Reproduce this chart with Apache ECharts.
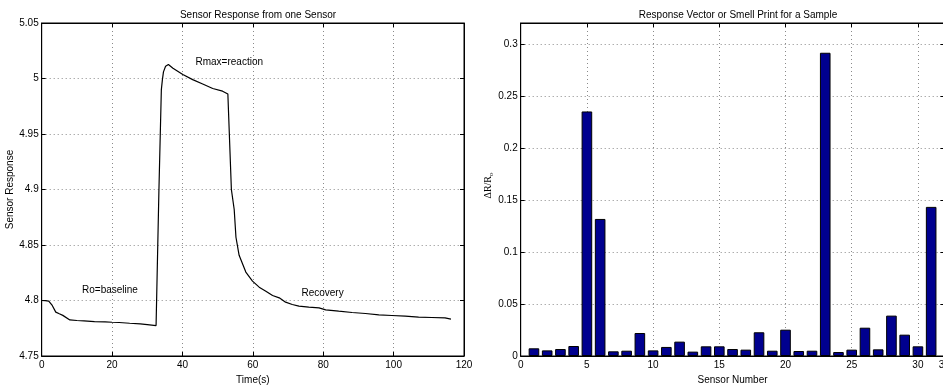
<!DOCTYPE html>
<html><head><meta charset="utf-8">
<script src="https://cdn.jsdelivr.net/npm/echarts@6/dist/echarts.min.js"></script>
<style>html,body{margin:0;padding:0;background:#fff}#c{width:943px;height:385px}</style>
</head><body><div id="c"></div>
<script>
// Left chart: sensor response over time
const timeS = [0, 1, 2, 2.5, 3, 4, 5, 6, 8, 10, 12, 15, 18, 20, 22, 25, 28, 30, 32.5, 32.7, 33.3, 34.0, 34.3, 34.6, 35.2, 36.0, 37.3, 40.1, 42.9, 45.75, 48.6, 51.4, 52.9, 53.1, 53.9, 54.7, 55.2, 56.1, 58.0, 59.9, 61.8, 63.7, 65.6, 67.5, 69.3, 71.2, 73.1, 75.9, 78.8, 80.7, 84.4, 88.2, 92.0, 95.8, 99.5, 103.3, 107.1, 110.8, 114.6, 116.3];
const response = [4.800, 4.7998, 4.7995, 4.8005, 4.7955, 4.7895, 4.7880, 4.7866, 4.7825, 4.7820, 4.7816, 4.7810, 4.7808, 4.7804, 4.7802, 4.7795, 4.7790, 4.7783, 4.7774, 4.7775, 4.898, 4.990, 4.999, 5.006, 5.011, 5.0126, 5.0093, 5.0036, 4.999, 4.995, 4.991, 4.9886, 4.986, 4.985, 4.900, 4.882, 4.857, 4.8407, 4.8256, 4.8175, 4.812, 4.8084, 4.8045, 4.8024, 4.7985, 4.7964, 4.7949, 4.7940, 4.7934, 4.7916, 4.7904, 4.7892, 4.7883, 4.7870, 4.7865, 4.7859, 4.7850, 4.7847, 4.7844, 4.7832];
const leftXTicks = [0, 20, 40, 60, 80, 100, 120];
const leftYTicks = [4.75, 4.8, 4.85, 4.9, 4.95, 5, 5.05];
const annotations = [
  {text: 'Rmax=reaction', t: 53.3, v: 5.0143},
  {text: 'Ro=baseline', t: 19.4, v: 4.8096},
  {text: 'Recovery', t: 79.8, v: 4.8065}
];
// Right chart: response vector
const sensorNumber = [1,2,3,4,5,6,7,8,9,10,11,12,13,14,15,16,17,18,19,20,21,22,23,24,25,26,27,28,29,30,31];
const deltaR = [0.0074, 0.0054, 0.0067, 0.0096, 0.235, 0.1317, 0.0045, 0.0051, 0.0221, 0.0054, 0.0087, 0.0138, 0.0042, 0.0093, 0.0093, 0.0067, 0.0061, 0.0228, 0.0051, 0.0253, 0.0048, 0.0051, 0.2914, 0.0038, 0.0061, 0.0272, 0.0064, 0.0388, 0.0205, 0.0093, 0.1433];
const rightYTicks = [0, 0.05, 0.1, 0.15, 0.2, 0.25, 0.3];

const FONT = 'Liberation Sans';
const tickStyle = {inside: true, length: 4, lineStyle: {color: '#000'}};
const gridLine = {show: true, lineStyle: {color: '#8a8a8a', type: [1, 3], width: 1}};
const lbl = {color: '#000', fontFamily: FONT, fontSize: 10};

function fmt(v){ return String(Math.round(v*1000)/1000); }

const chart = echarts.init(document.getElementById('c'), null, {renderer: 'canvas'});
chart.setOption({
  animation: false,
  backgroundColor: '#fff',
  title: [
    {text: 'Sensor Response from one Sensor', left: 253, top: 5, textAlign: 'center',
     textStyle: {fontFamily: FONT, fontSize: 10, fontWeight: 'normal', color: '#000'}},
    {text: 'Response Vector or Smell Print for a Sample', left: 733, top: 5, textAlign: 'center',
     textStyle: {fontFamily: FONT, fontSize: 10, fontWeight: 'normal', color: '#000'}}
  ],
  grid: [
    {left: 41.7, top: 23, width: 422.3, height: 333, show: true, borderColor: '#000', borderWidth: 1,
     containLabel: false, outerBoundsMode: 'none'},
    {left: 520.7, top: 23, width: 423.7, height: 333, show: true, borderColor: '#000', borderWidth: 1,
     containLabel: false, outerBoundsMode: 'none'}
  ],
  xAxis: [
    {gridIndex: 0, type: 'value', min: leftXTicks[0], max: leftXTicks[leftXTicks.length-1], interval: 20,
     name: 'Time(s)', nameLocation: 'middle', nameGap: 14, nameTextStyle: lbl,
     axisLine: {show: true, onZero: false, lineStyle: {color: '#000'}}, axisTick: tickStyle,
     axisLabel: Object.assign({margin: 4, formatter: fmt}, lbl), splitLine: gridLine},
    {gridIndex: 0, type: 'value', position: 'top', min: 0, max: 120, interval: 20,
     axisLine: {show: true, onZero: false, lineStyle: {color: '#000'}}, axisTick: tickStyle,
     axisLabel: {show: false}, splitLine: {show: false}},
    {gridIndex: 1, type: 'value', min: 0, max: 32, interval: 5,
     name: 'Sensor Number', nameLocation: 'middle', nameGap: 14, nameTextStyle: lbl,
     axisLine: {show: true, onZero: false, lineStyle: {color: '#000'}}, axisTick: tickStyle,
     axisLabel: Object.assign({margin: 4, formatter: fmt}, lbl), splitLine: gridLine},
    {gridIndex: 1, type: 'value', position: 'top', min: 0, max: 32, interval: 5,
     axisLine: {show: true, onZero: false, lineStyle: {color: '#000'}}, axisTick: tickStyle,
     axisLabel: {show: false}, splitLine: {show: false}}
  ],
  yAxis: [
    {gridIndex: 0, type: 'value', min: leftYTicks[0], max: leftYTicks[leftYTicks.length-1], interval: 0.05,
     name: 'Sensor Response', nameLocation: 'middle', nameGap: 22, nameTextStyle: lbl,
     axisLine: {show: true, onZero: false, lineStyle: {color: '#000'}}, axisTick: tickStyle,
     axisLabel: Object.assign({margin: 3, formatter: fmt}, lbl), splitLine: gridLine},
    {gridIndex: 0, type: 'value', position: 'right', min: 4.75, max: 5.05, interval: 0.05,
     axisLine: {show: true, onZero: false, lineStyle: {color: '#000'}}, axisTick: tickStyle,
     axisLabel: {show: false}, splitLine: {show: false}},
    {gridIndex: 1, type: 'value', min: 0, max: 0.32, interval: 0.05,
     name: '{n|ΔR/R}{s|o}', nameLocation: 'middle', nameGap: 23,
     nameTextStyle: {color: '#000', padding: [0, 0, 0, 8], rich: {
        n: {fontFamily: 'Liberation Serif', fontSize: 10, color: '#000'},
        s: {fontFamily: 'Liberation Serif', fontSize: 7, color: '#000', verticalAlign: 'bottom', padding: [4,0,0,0]}}},
     axisLine: {show: true, onZero: false, lineStyle: {color: '#000'}}, axisTick: tickStyle,
     axisLabel: Object.assign({margin: 3, formatter: fmt, showMaxLabel: false}, lbl), splitLine: gridLine},
    {gridIndex: 1, type: 'value', position: 'right', min: 0, max: 0.32, interval: 0.05,
     axisLine: {show: true, onZero: false, lineStyle: {color: '#000'}}, axisTick: tickStyle,
     axisLabel: {show: false}, splitLine: {show: false}}
  ],
  series: [
    {type: 'line', xAxisIndex: 0, yAxisIndex: 0, showSymbol: false, symbol: 'none',
     data: timeS.map((t, i) => [t, response[i]]),
     lineStyle: {color: '#000', width: 1.2}, smooth: false,
     markPoint: {symbol: 'circle', symbolSize: 0, silent: true,
       label: {show: true, position: 'inside', color: '#000', fontFamily: FONT, fontSize: 10,
               formatter: p => p.name},
       data: annotations.map(a => ({name: a.text, coord: [a.t, a.v]}))}},
    {type: 'bar', xAxisIndex: 2, yAxisIndex: 2, barWidth: 10.6,
     data: sensorNumber.map((n, i) => [n, deltaR[i]]),
     itemStyle: {color: '#00008F', borderColor: '#000', borderWidth: 1}}
  ]
});
</script></body></html>
